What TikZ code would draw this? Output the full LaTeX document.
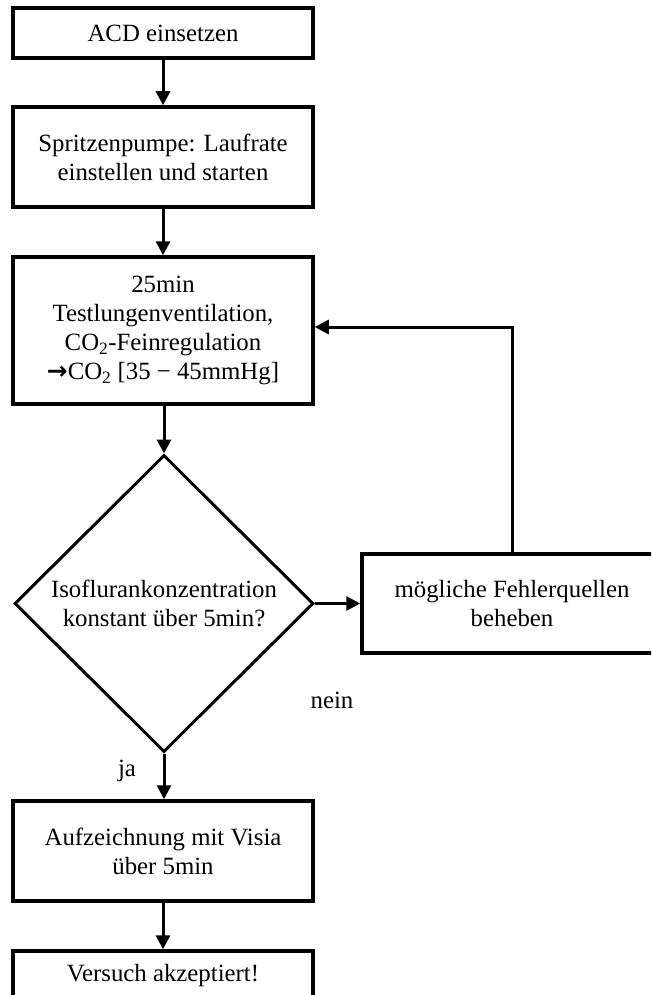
\documentclass[tikz,border=0pt]{standalone}
\usepackage{fontspec}
\setmainfont{Liberation Serif}
\newfontfamily\dejavu{DejaVu Sans}
\usetikzlibrary{shapes.geometric,arrows.meta}
\begin{document}
\begin{tikzpicture}[x=1pt,y=-1pt,
  every node/.style={font=\fontsize{24.8}{29}\selectfont, align=center},
  box/.style={draw, line width=3.5pt, minimum width=300pt, inner sep=0pt},
  dia/.style={draw, diamond, line width=3pt, minimum width=299pt, minimum height=297pt, inner sep=0pt},
  arr/.style={line width=3pt, -{Triangle[width=14pt,length=14pt]}},
  conn/.style={line width=3pt}]
\clip (0,0) rectangle (651,995);
\fill[white] (0,0) rectangle (651,995);
\node[box, minimum height=50pt] (b1) at (163,33) {ACD einsetzen};
\node[box, minimum height=100pt] (b2) at (163,157) {Spritzenpumpe: Laufrate\\einstellen und starten};
\node[box, minimum height=147pt] (b3) at (163,330.5) {25min\\Testlungenventilation,\\CO\textsubscript{2}-Feinregulation\\{\dejavu\bfseries →}CO\textsubscript{2} [35 − 45mmHg]};
\node[dia] (d) at (164,603.5) {};
\node (dt) at (164,603) {Isoflurankonzentration\\konstant über 5min?};
\node[box, minimum height=99pt] (fb) at (512,603.5) {mögliche Fehlerquellen\\beheben};
\node[box, minimum height=100pt] (b4) at (163,851) {Aufzeichnung mit Visia\\über 5min};
\node[box, minimum height=50pt] (b5) at (163,976) {Versuch akzeptiert!};
\node (nein) at (332,700) {nein};
\node (ja) at (127,771) {ja};
\draw[arr] (b1) -- (b2);
\draw[arr] (b2) -- (b3);
\draw[arr] (b3.south -| d.north) -- (d.north);
\draw[arr] (d.east) -- (fb.west);
\draw[arr] (fb.north) |- ([yshift=3.5pt]b3.east);
\draw[arr] (d.south) -- (d.south |- b4.north);
\draw[arr] (b4) -- (b5);
\end{tikzpicture}
\end{document}
